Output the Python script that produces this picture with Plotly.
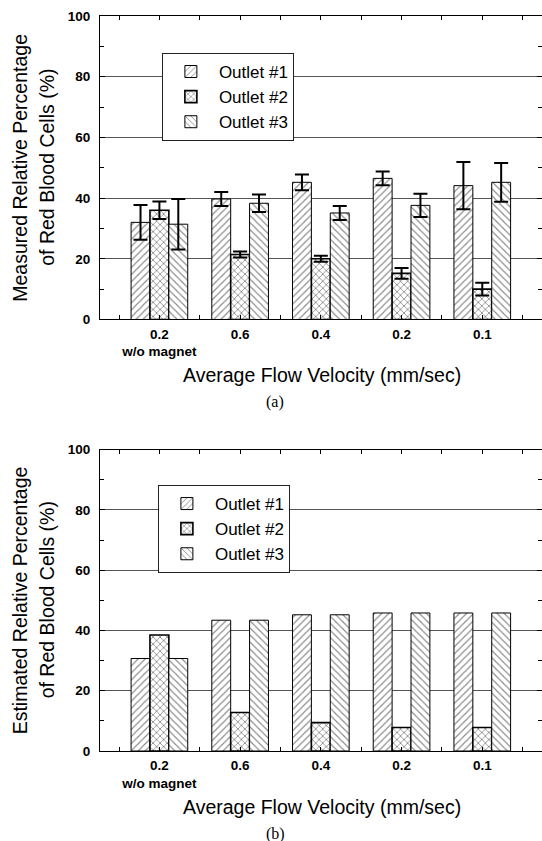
import plotly.graph_objects as go

# ---------------- data ----------------
categories = ["0.2<br>w/o magnet", "0.6", "0.4", "0.2", "0.1"]
series_names = ["Outlet #1", "Outlet #2", "Outlet #3"]

measured_o1 = [32.0, 39.7, 45.2, 46.5, 44.1]
measured_o1_err = [5.7, 2.3, 2.6, 2.3, 7.8]
measured_o2 = [36.0, 21.4, 20.0, 15.2, 10.0]
measured_o2_err = [2.9, 1.0, 1.0, 1.8, 2.1]
measured_o3 = [31.4, 38.3, 35.1, 37.6, 45.2]
measured_o3_err = [8.3, 2.9, 2.3, 3.8, 6.4]

estimated_o1 = [30.7, 43.4, 45.2, 45.8, 45.8]
estimated_o2 = [38.5, 12.8, 9.4, 7.8, 7.8]
estimated_o3 = [30.7, 43.4, 45.2, 45.8, 45.8]

y_ticks = [0, 20, 40, 60, 80, 100]

# ---------------- styling ----------------
FONT = "Liberation Sans, Arial, sans-serif"
SERIF = "Liberation Serif, Times New Roman, serif"
shapes = ["/", "x", "\\"]
pat_size = [5, 5, 5]
pat_sol = [0.22, 0.3, 0.22]
line_w = [1, 1.6, 1]

xpos = list(range(len(categories)))

fig = go.Figure()

measured = [(measured_o1, measured_o1_err), (measured_o2, measured_o2_err), (measured_o3, measured_o3_err)]
estimated = [estimated_o1, estimated_o2, estimated_o3]


def marker(i):
    return dict(color="white", line=dict(color="black", width=line_w[i]),
                pattern=dict(shape=shapes[i], fgcolor="#111", bgcolor="white",
                             size=pat_size[i], solidity=pat_sol[i], fillmode="overlay"))


for i, (vals, errs) in enumerate(measured):
    fig.add_trace(go.Bar(
        x=xpos, y=vals, name=series_names[i], xaxis="x", yaxis="y",
        legend="legend", marker=marker(i),
        error_y=dict(type="data", array=errs, visible=True, color="black",
                     thickness=2, width=7),
    ))

for i, vals in enumerate(estimated):
    fig.add_trace(go.Bar(
        x=xpos, y=vals, name=series_names[i], xaxis="x2", yaxis="y2",
        legend="legend2", marker=marker(i),
    ))

xaxis_common = dict(
    range=[-0.736, 4.74], tickmode="array", tickvals=xpos, ticktext=categories,
    ticks="inside", ticklen=4, tickcolor="black", tickwidth=1,
    minor=dict(dtick=0.5, tick0=0, ticks="inside", ticklen=4, tickcolor="black", tickwidth=1),
    showline=True, linecolor="black", linewidth=1.2, mirror="ticks",
    showgrid=False, zeroline=False,
    tickfont=dict(family=FONT, size=13.5, color="black", weight="bold"),
    ticklabelstandoff=2,
)
yaxis_common = dict(
    range=[0, 100], tickmode="array", tickvals=y_ticks,
    ticks="inside", ticklen=5, tickcolor="black", tickwidth=1,
    minor=dict(dtick=10, tick0=0, ticks="inside", ticklen=4, tickcolor="black", tickwidth=1, showgrid=False),
    showline=True, linecolor="black", linewidth=1.2, mirror="ticks",
    showgrid=True, gridcolor="#555", gridwidth=1, zeroline=False,
    tickfont=dict(family=FONT, size=13.5, color="black", weight="bold"),
    ticklabelstandoff=6,
)

legend_common = dict(xanchor="left", yanchor="top",
                     bgcolor="white", bordercolor="#222", borderwidth=1,
                     font=dict(family=FONT, size=17, color="black"),
                     itemwidth=46, tracegroupgap=0)

fig.update_layout(
    width=542, height=841,
    margin=dict(l=100, r=0, t=16, b=90),
    paper_bgcolor="white", plot_bgcolor="white",
    barmode="group", bargap=0.298, bargroupgap=0,
    xaxis=dict(domain=[0, 1], anchor="y", **xaxis_common),
    yaxis=dict(domain=[0.5871, 1], anchor="x", **yaxis_common),
    xaxis2=dict(domain=[0, 1], anchor="y2", **xaxis_common),
    yaxis2=dict(domain=[0, 0.410], anchor="x2", **yaxis_common),
    legend=dict(x=0.140, y=0.9497, **legend_common),
    legend2=dict(x=0.131, y=0.3619, **legend_common),
    showlegend=True,
)

ytitles = [("Measured Relative Percentage", "of Red Blood Cells (%)", "y"),
           ("Estimated Relative Percentage", "of Red Blood Cells (%)", "y2")]
labels = ["(a)", "(b)"]
TSIZE = 19.5
ann = []
for k, (l1, l2, yax) in enumerate(ytitles):
    yref = yax + " domain"
    ann.append(dict(text=l1, xref="paper", x=0, xanchor="center", xshift=-80,
                    yref=yref, y=0.5, yanchor="middle", textangle=-90, showarrow=False,
                    font=dict(family=FONT, size=TSIZE, color="black")))
    ann.append(dict(text=l2, xref="paper", x=0, xanchor="center", xshift=-53,
                    yref=yref, y=0.5, yanchor="middle", textangle=-90, showarrow=False,
                    font=dict(family=FONT, size=TSIZE, color="black")))
    ann.append(dict(text="Average Flow Velocity (mm/sec)", xref="paper", x=0.502, xanchor="center",
                    yref=yref, y=0, yanchor="middle", yshift=-56, showarrow=False,
                    font=dict(family=FONT, size=TSIZE, color="black")))
    ann.append(dict(text=labels[k], xref="paper", x=0.397, xanchor="center",
                    yref=yref, y=0, yanchor="middle", yshift=-83, showarrow=False,
                    font=dict(family=SERIF, size=16, color="black")))
fig.update_layout(annotations=ann)

fig.write_html("out.html", config={"displayModeBar": False},
               post_script="document.body.style.margin='0px';document.body.style.overflow='hidden';")
